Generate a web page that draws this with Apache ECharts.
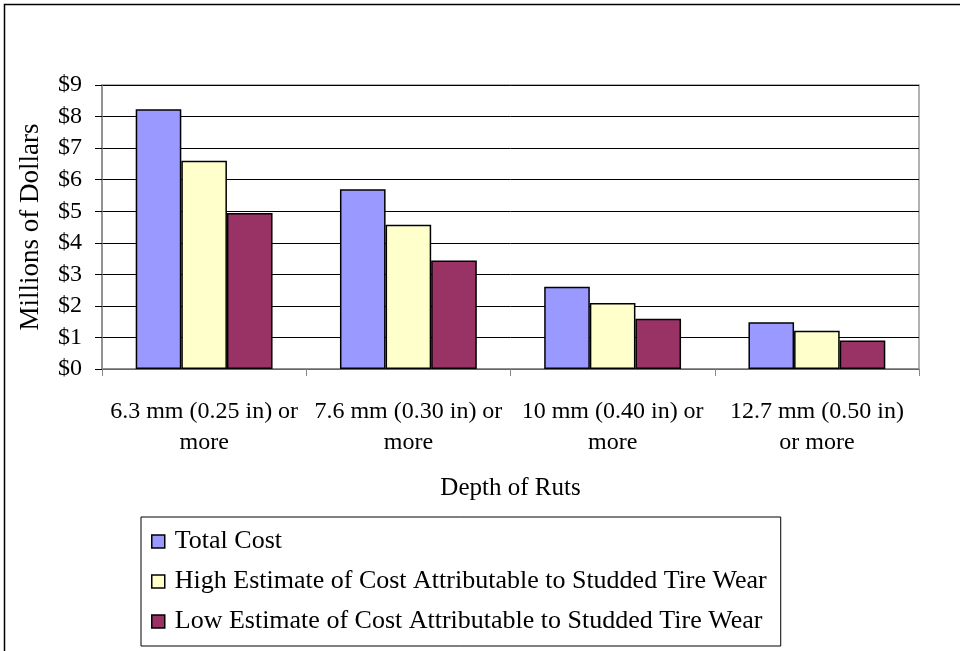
<!DOCTYPE html>
<html><head><meta charset="utf-8">
<script src="https://cdn.jsdelivr.net/npm/echarts@6/dist/echarts.min.js"></script>
<style>html,body{margin:0;padding:0;background:#fff}#c{width:960px;height:651px}</style>
</head><body><div id="c"></div>
<script>
const categories = ['6.3 mm (0.25 in) or\nmore', '7.6 mm (0.30 in) or\nmore', '10 mm (0.40 in) or\nmore', '12.7 mm (0.50 in)\nor more'];
const seriesNames = ['Total Cost', 'High Estimate of Cost Attributable to Studded Tire Wear', 'Low Estimate of Cost Attributable to Studded Tire Wear'];
const totalCost = [8.23, 5.70, 2.61, 1.48];
const highEstimate = [6.60, 4.57, 2.09, 1.21];
const lowEstimate = [4.94, 3.44, 1.59, 0.90];
const yTicks = [0, 1, 2, 3, 4, 5, 6, 7, 8, 9];

const font = 'Liberation Serif, Times New Roman, serif';
const colors = ['#9999FF', '#FFFFCC', '#993366'];
const chart = echarts.init(document.getElementById('c'));
chart.setOption({
  animation: false,
  textStyle: { fontFamily: font, color: '#000' },
  graphic: [{
    type: 'rect', shape: { x: 4.5, y: 4.5, width: 1000, height: 700 },
    style: { fill: 'none', stroke: '#000', lineWidth: 1.5 }, z: -1
  }],
  grid: { left: 102, right: 41, top: 85, bottom: 282, show: true, borderColor: '#999', borderWidth: 1.5, backgroundColor: 'transparent' },
  legend: {
    orient: 'vertical', left: 141, top: 517,
    data: seriesNames,
    itemWidth: 13, itemHeight: 13, itemGap: 13,
    padding: [11, 14, 11, 10],
    borderColor: '#000', borderWidth: 1,
    textStyle: { fontFamily: font, fontSize: 26, color: '#000', lineHeight: 27, padding: [0, 0, 0, 5] },
    itemStyle: { borderColor: '#000', borderWidth: 1.5 },
    icon: 'rect',
    selectedMode: false
  },
  xAxis: {
    type: 'category', data: categories,
    axisLine: { lineStyle: { color: '#888', width: 1.5 } },
    axisTick: { show: true, alignWithLabel: false, length: 7, lineStyle: { color: '#888' } },
    axisLabel: { fontFamily: font, fontSize: 24, color: '#000', lineHeight: 31, margin: 27, interval: 0 },
    name: 'Depth of Ruts', nameLocation: 'middle', nameGap: 107,
    nameTextStyle: { fontFamily: font, fontSize: 25, color: '#000' }
  },
  yAxis: {
    type: 'value', min: 0, max: 9, interval: 1,
    axisLine: { show: true, lineStyle: { color: '#888', width: 1.5 } },
    axisTick: { show: true, length: 7, lineStyle: { color: '#000' } },
    splitLine: { show: true, lineStyle: { color: '#000', width: 1 } },
    axisLabel: { fontFamily: font, fontSize: 24, color: '#000', margin: 20, formatter: v => '$' + v },
    name: 'Millions of Dollars', nameLocation: 'middle', nameGap: 58, nameRotate: 90,
    nameTextStyle: { fontFamily: font, fontSize: 27, color: '#000' }
  },
  series: [totalCost, highEstimate, lowEstimate].map((d, i) => ({
    name: seriesNames[i], type: 'bar', data: d,
    barGap: '0%', barCategoryGap: '33%',
    itemStyle: { color: colors[i], borderColor: '#000', borderWidth: 1.5 }
  }))
});
</script></body></html>
